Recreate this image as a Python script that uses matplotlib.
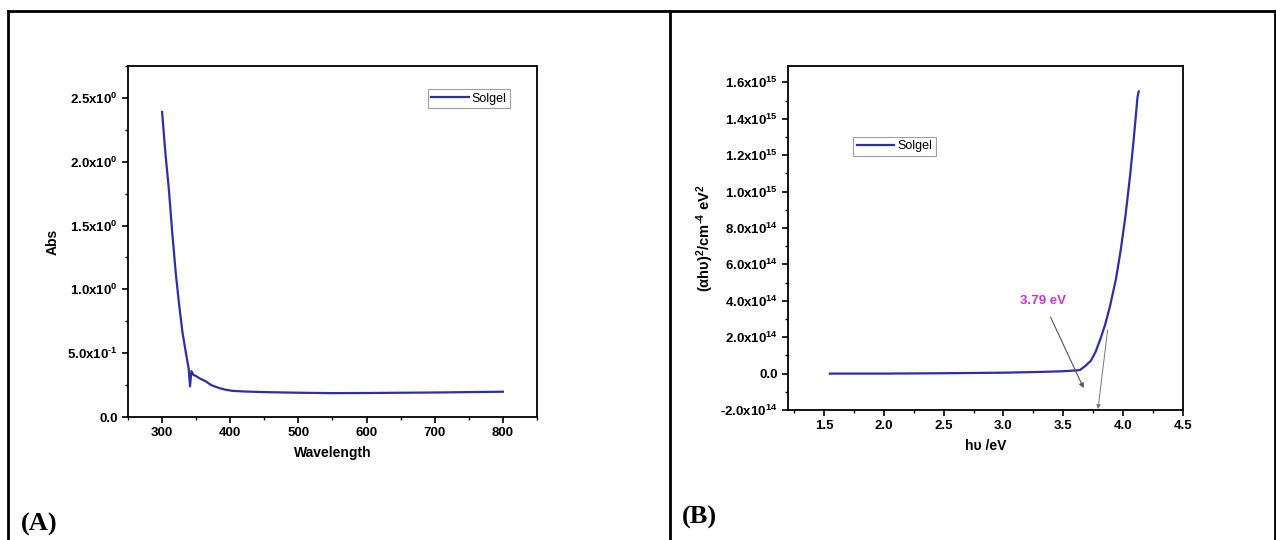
import numpy as np
import matplotlib
matplotlib.use("Agg")
import matplotlib.pyplot as plt
from matplotlib.lines import Line2D
from matplotlib.ticker import MultipleLocator

plt.rcParams['font.family'] = ['Liberation Sans', 'DejaVu Sans']
plt.rcParams['mathtext.fontset'] = 'custom'
plt.rcParams['mathtext.rm'] = 'Liberation Sans:bold'
plt.rcParams['mathtext.it'] = 'Liberation Sans:bold'
plt.rcParams['mathtext.bf'] = 'Liberation Sans:bold'

# (A) absorbance spectrum
wavelength = [300, 305, 310, 315, 320, 325, 330, 335, 339, 341, 343, 346, 350, 356, 364, 372, 382, 392, 403,
              420, 450, 500, 550, 600, 650, 700, 750, 800]
absorb = [2.39, 2.06, 1.78, 1.44, 1.13, 0.88, 0.66, 0.50, 0.38, 0.24, 0.36, 0.33, 0.32, 0.30, 0.28, 0.25, 0.23,
          0.215, 0.205, 0.20, 0.195, 0.19, 0.187, 0.188, 0.19, 0.192, 0.195, 0.198]
abs_ticks = [0.0, 0.5, 1.0, 1.5, 2.0, 2.5]
abs_labels = ['0.0', r'$5.0x10^{\text{-}1}$', r'$1.0x10^{0}$', r'$1.5x10^{0}$', r'$2.0x10^{0}$', r'$2.5x10^{0}$']

# (B) Tauc plot
hv = [1.55, 2.0, 2.5, 3.0, 3.3, 3.5, 3.6, 3.64, 3.68, 3.73, 3.77, 3.81, 3.85, 3.89, 3.94, 3.98, 4.02,
      4.06, 4.09, 4.12, 4.13]
tauc = [0.0, 0.0, 0.02e14, 0.05e14, 0.09e14, 0.13e14, 0.17e14, 0.2e14, 0.4e14, 0.7e14, 1.2e14, 1.9e14,
        2.7e14, 3.7e14, 5.2e14, 6.8e14, 8.7e14, 11.0e14, 13.0e14, 15.2e14, 15.5e14]
tauc_ticks = [-2e14, 0, 2e14, 4e14, 6e14, 8e14, 10e14, 12e14, 14e14, 16e14]
tauc_labels = ['-2.0x10$^{14}$', '0.0', r'$2.0x10^{14}$', r'$4.0x10^{14}$', r'$6.0x10^{14}$',
               r'$8.0x10^{14}$', r'$1.0x10^{15}$', r'$1.2x10^{15}$', r'$1.4x10^{15}$', r'$1.6x10^{15}$']

line_color = '#2e2ea8'
W, H = 1276, 540
fig = plt.figure(figsize=(W / 100, H / 100), dpi=100)


def style_axes(ax):
    for s in ax.spines.values():
        s.set_linewidth(1.3)
    ax.tick_params(which='major', direction='out', length=4, width=1.2, labelsize=9.5)
    ax.tick_params(which='minor', direction='out', length=2.5, width=1.0)
    for lab in ax.get_xticklabels() + ax.get_yticklabels():
        lab.set_fontweight('bold')


# left panel
ax1 = fig.add_axes([128 / W, 1 - 417 / H, 409 / W, 351 / H])
ax1.plot(wavelength, absorb, color=line_color, lw=1.6, label='Solgel')
ax1.set_xlim(250, 850)
ax1.set_ylim(0, 2.75)
ax1.xaxis.set_major_locator(MultipleLocator(100))
ax1.xaxis.set_minor_locator(MultipleLocator(50))
ax1.set_yticks(abs_ticks)
ax1.set_yticklabels(abs_labels)
ax1.yaxis.set_minor_locator(MultipleLocator(0.25))
style_axes(ax1)
ax1.set_xlabel('Wavelength', fontsize=10, fontweight='bold', labelpad=5)
ax1.set_ylabel('Abs', fontsize=10, fontweight='bold', labelpad=5)
leg1 = ax1.legend(loc='upper right', bbox_to_anchor=(0.934, 0.935), fontsize=9, frameon=True,
                  fancybox=False, handlelength=3.0, handletextpad=0.2, borderpad=0.3,
                  borderaxespad=0)
leg1.get_frame().set_edgecolor('#888888')
leg1.get_frame().set_linewidth(0.8)

# right panel
ax2 = fig.add_axes([788 / W, 1 - 410 / H, 395 / W, 344 / H])
ax2.plot(hv, tauc, color=line_color, lw=1.6, label='Solgel')
ax2.set_xlim(1.2, 4.5)
ax2.set_ylim(-2e14, 1.69e15)
ax2.xaxis.set_major_locator(MultipleLocator(0.5))
ax2.xaxis.set_minor_locator(MultipleLocator(0.25))
ax2.set_yticks(tauc_ticks)
ax2.set_yticklabels(tauc_labels)
ax2.yaxis.set_minor_locator(MultipleLocator(1e14))
style_axes(ax2)
ax2.set_xlabel('h\u03c5 /eV', fontsize=10, fontweight='bold', labelpad=5)
ax2.set_ylabel(r'$(\alpha h\upsilon)^{2}/cm^{\text{-}4}\ eV^{2}$', fontsize=10.5, labelpad=3)
leg2 = ax2.legend(loc='upper left', bbox_to_anchor=(0.165, 0.795), fontsize=9, frameon=True,
                  fancybox=False, handlelength=3.0, handletextpad=0.2, borderpad=0.3,
                  borderaxespad=0)
leg2.get_frame().set_edgecolor('#888888')
leg2.get_frame().set_linewidth(0.8)

ax2.annotate('3.79 eV', xy=(3.67, -0.08e15), xytext=(3.33, 0.40e15), color='#cc33cc',
             fontsize=9.5, fontweight='bold', ha='center', va='center',
             arrowprops=dict(arrowstyle='-|>', color='#555555', lw=0.8, mutation_scale=7,
                             shrinkA=6, shrinkB=0))
ax2.annotate('', xy=(3.79, -0.195e15), xytext=(3.87, 0.24e15),
             arrowprops=dict(arrowstyle='-|>', color='#777777', lw=0.7, mutation_scale=6,
                             shrinkA=0, shrinkB=0))

# table frame
frame_kw = dict(color='black', lw=2.0, transform=fig.transFigure)
top = 1 - 11 / H
fig.add_artist(Line2D([8 / W, 1275 / W], [top, top], **frame_kw))
for xp in [8, 670, 1275]:
    fig.add_artist(Line2D([xp / W, xp / W], [0, top], **frame_kw))

fig.text(21 / W, 1 - 531 / H, '(A)', fontsize=19, fontweight='bold', family='Liberation Serif',
         va='baseline')
fig.text(682 / W, 1 - 524 / H, '(B)', fontsize=19, fontweight='bold', family='Liberation Serif',
         va='baseline')

fig.savefig('out.png', dpi=100)
